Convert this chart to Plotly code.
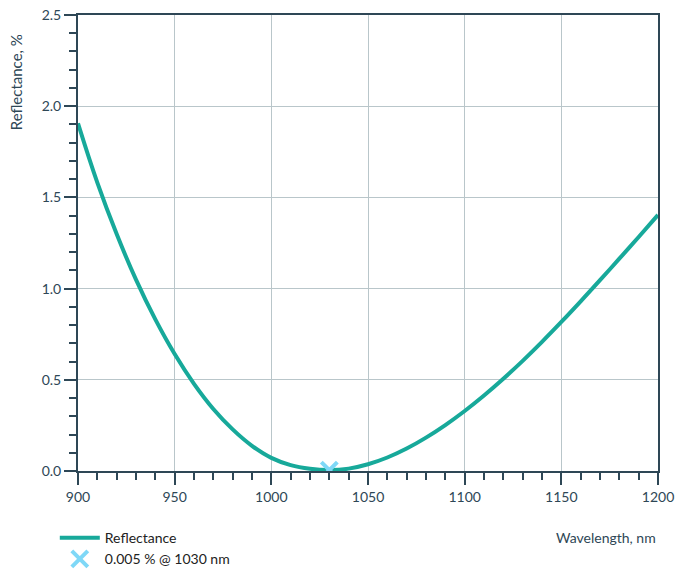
"""
Reflectance curve with minimum marker.
"""
import plotly.graph_objects as go

# Data
wavelength = [900, 910, 920, 930, 940, 950, 960, 970, 980, 990, 1000,
              1010, 1020, 1030, 1040, 1050, 1060, 1070, 1080, 1090, 1100,
              1110, 1120, 1130, 1140, 1150, 1160, 1170, 1180, 1190, 1200]
reflectance = [1.906, 1.581, 1.299, 1.049, 0.831, 0.641, 0.478, 0.340, 0.228, 0.138, 0.072,
               0.032, 0.012, 0.005, 0.013, 0.037, 0.074, 0.123, 0.183, 0.252, 0.329,
               0.414, 0.506, 0.604, 0.708, 0.817, 0.930, 1.046, 1.164, 1.283, 1.404]
min_wl = [1030]
min_r = [0.005]

DARK = '#2e4756'
GRID = '#b9c6ca'
FONT = 'Lato'

fig = go.Figure()

fig.add_trace(go.Scatter(
    x=wavelength,
    y=reflectance,
    mode='lines',
    line=dict(color='#17a99a', width=4, shape='spline', smoothing=1.2),
    name='Reflectance'
))

fig.add_trace(go.Scatter(
    x=min_wl,
    y=min_r,
    mode='markers',
    marker=dict(symbol='x-thin', size=16, color='#7fd8f7',
                line=dict(width=4, color='#7fd8f7')),
    name='0.005 % @ 1030 nm'
))

axis_common = dict(
    showline=True,
    linecolor=DARK,
    linewidth=2,
    mirror=True,
    showgrid=True,
    gridcolor=GRID,
    gridwidth=1,
    zeroline=False,
    ticks='outside',
    tickcolor=DARK,
    tickwidth=2,
    ticklen=12,
    tickfont=dict(family=FONT, size=14, color=DARK),
)

fig.update_xaxes(
    range=[900, 1200],
    dtick=50,
    minor=dict(dtick=10, ticks='outside', ticklen=7, tickwidth=2,
               tickcolor=DARK, showgrid=False),
    **axis_common
)
fig.update_yaxes(
    range=[0, 2.5],
    dtick=0.5,
    tickformat='.1f',
    minor=dict(dtick=0.1, ticks='outside', ticklen=7, tickwidth=2,
               tickcolor=DARK, showgrid=False),
    **axis_common
)

# Axis titles as annotations (placed like the reference)
fig.add_annotation(
    text='Reflectance, %', xref='paper', yref='paper',
    x=-0.107, y=0.962, xanchor='center', yanchor='top', textangle=-90,
    showarrow=False, font=dict(family=FONT, size=15, color=DARK)
)
fig.add_annotation(
    text='Wavelength, nm', xref='paper', yref='paper',
    x=1.0, y=-0.145, xanchor='right', yanchor='middle',
    showarrow=False, font=dict(family=FONT, size=14, color=DARK)
)

fig.update_layout(
    width=684,
    height=583,
    plot_bgcolor='white',
    paper_bgcolor='white',
    margin=dict(l=78, r=26, t=15, b=112, autoexpand=False),
    showlegend=True,
    legend=dict(
        x=-0.04, y=-0.112, xanchor='left', yanchor='top',
        orientation='v',
        itemwidth=40,
        font=dict(family=FONT, size=14, color='#222222'),
        bgcolor='rgba(0,0,0,0)',
        tracegroupgap=0
    ),
)

# drop the default 8px body margin so the figure fills the window
fig.write_html("out.html", config={'displayModeBar': False},
               post_script="document.body.style.margin='0';")
